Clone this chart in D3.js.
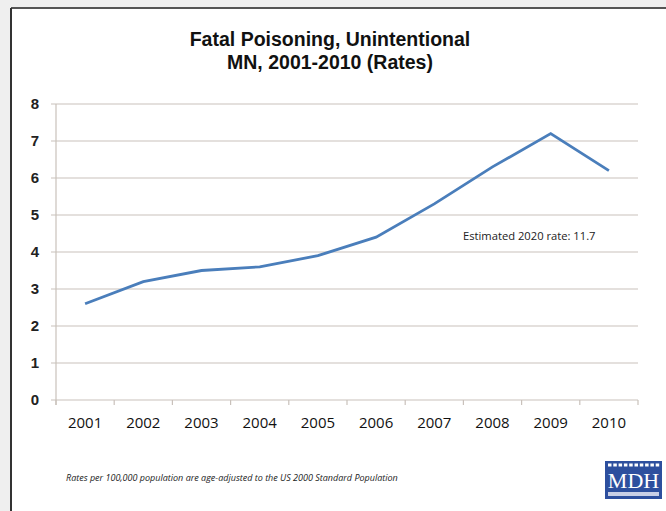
<!DOCTYPE html>
<html><head><meta charset="utf-8">
<script src="https://cdn.jsdelivr.net/npm/d3@7"></script>
<style>body{margin:0;background:#fff}svg{display:block}</style>
</head><body><svg id="c" width="666" height="511"></svg>
<script>
const years = ["2001","2002","2003","2004","2005","2006","2007","2008","2009","2010"];
const rates = [2.6, 3.2, 3.5, 3.6, 3.9, 4.4, 5.3, 6.3, 7.2, 6.2];
const yTicks = [0,1,2,3,4,5,6,7,8];
const titleLines = ["Fatal Poisoning, Unintentional", "MN, 2001-2010 (Rates)"];
const annotation = "Estimated 2020 rate: 11.7";
const footnote = "Rates per 100,000 population are age-adjusted to the US 2000 Standard Population";

const svg = d3.select("#c");
// outer background and frame
svg.append("rect").attr("width",666).attr("height",511).attr("fill","#efefef");
svg.append("rect").attr("x",11).attr("y",8).attr("width",700).attr("height",600).attr("fill","#fff");
svg.append("line").attr("x1",11).attr("x2",666).attr("y1",8).attr("y2",8).attr("stroke","#555").attr("stroke-width",2);
svg.append("line").attr("x1",11).attr("x2",11).attr("y1",8).attr("y2",511).attr("stroke","#333").attr("stroke-width",2);

const pLeft=56, pRight=638, pTop=104, pBottom=400;
const x = d3.scaleBand().domain(years).range([pLeft,pRight]);
const y = d3.scaleLinear().domain([0,8]).range([pBottom,pTop]);

// gridlines
svg.append("g").selectAll("line").data(yTicks).join("line")
  .attr("x1",pLeft-5).attr("x2",pRight).attr("y1",d=>y(d)).attr("y2",d=>y(d))
  .attr("stroke","#c9c1bb").attr("stroke-width",1.2);
// y axis line
svg.append("line").attr("x1",pLeft).attr("x2",pLeft).attr("y1",pTop).attr("y2",pBottom+5).attr("stroke","#c9c1bb").attr("stroke-width",1.2);
// x ticks
const xTickPos = years.map(d=>x(d)).concat([pRight]);
svg.append("g").selectAll("line").data(xTickPos).join("line")
  .attr("x1",d=>d).attr("x2",d=>d).attr("y1",pBottom).attr("y2",pBottom+5)
  .attr("stroke","#c9c1bb").attr("stroke-width",1.2);

// y labels
svg.append("g").selectAll("text").data(yTicks).join("text")
  .attr("x",39).attr("y",d=>y(d)).attr("dy","0.36em").attr("text-anchor","end")
  .attr("font-family","Liberation Sans, Arial, sans-serif").attr("font-weight","bold").attr("font-size",15).attr("fill","#222")
  .text(d=>d);
// x labels
svg.append("g").selectAll("text").data(years).join("text")
  .attr("x",d=>x(d)+x.bandwidth()/2).attr("y",428).attr("text-anchor","middle")
  .attr("font-family","Open Sans, sans-serif").attr("font-weight","normal").attr("font-size",15).attr("fill","#111")
  .text(d=>d);

// line
const line = d3.line().x((d,i)=>x(years[i])+x.bandwidth()/2).y(d=>y(d));
svg.append("path").datum(rates).attr("d",line).attr("fill","none")
  .attr("stroke","#4a7ebb").attr("stroke-width",2.8).attr("stroke-linejoin","miter");

// title
svg.append("g").selectAll("text").data(titleLines).join("text")
  .attr("x",330).attr("y",(d,i)=>46+i*23).attr("text-anchor","middle")
  .attr("font-family","Liberation Sans, Arial, sans-serif").attr("font-weight","bold").attr("font-size",19.5).attr("fill","#111")
  .text(d=>d);

// annotation
svg.append("text").attr("x",463).attr("y",240)
  .attr("font-family","Open Sans, sans-serif").attr("font-size",11.2).attr("fill","#222").text(annotation);

// footnote
svg.append("text").attr("x",66).attr("y",481)
  .attr("font-family","Open Sans, sans-serif").attr("font-style","italic").attr("font-size",9).attr("fill","#222").text(footnote);

// MDH logo
const lg = svg.append("g").attr("transform","translate(605,461)");
lg.append("rect").attr("width",57).attr("height",38).attr("fill","#2d4f9e");
lg.append("g").selectAll("rect").data(d3.range(10)).join("rect")
  .attr("x",d=>3+d*5.3).attr("y",2.5).attr("width",3.5).attr("height",3).attr("fill","#fff");
lg.append("text").attr("x",28.5).attr("y",27).attr("text-anchor","middle")
  .attr("font-family","Liberation Serif, serif").attr("font-size",22).attr("fill","#fff").text("MDH");
lg.append("rect").attr("x",3).attr("y",31).attr("width",51).attr("height",4).attr("fill","#c8cfe6");
</script></body></html>
